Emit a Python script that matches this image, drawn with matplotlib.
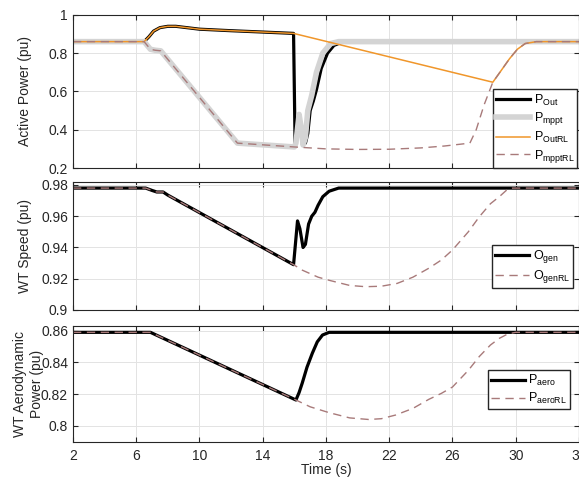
import matplotlib
matplotlib.use("Agg")
import matplotlib.pyplot as plt

plt.rcParams['font.family'] = ['Liberation Sans', 'DejaVu Sans']
plt.rcParams['mathtext.fontset'] = 'custom'
plt.rcParams['mathtext.rm'] = 'Liberation Sans'
plt.rcParams['mathtext.it'] = 'Liberation Sans:italic'

# ---- top panel: active power ----
t_pre = [2, 6.5, 6.8, 7.1, 7.5, 8.0, 8.5, 9.0, 10, 12, 14, 15.95]
p_out_pre = [0.86, 0.86, 0.885, 0.915, 0.933, 0.94, 0.94, 0.935, 0.925, 0.917, 0.91, 0.903]

t_out_post = [16.05, 16.3, 16.5, 16.7, 16.85, 17.0, 17.2, 17.4, 17.7, 18.1, 18.5, 19.0, 19.5, 34]
p_out_post = [0.31, 0.45, 0.36, 0.33, 0.38, 0.50, 0.55, 0.61, 0.72, 0.80, 0.84, 0.857, 0.86, 0.86]

t_mppt_pre = [2, 6.5, 6.9, 7.2, 7.55, 12.4, 16.0]
p_mppt_pre = [0.86, 0.86, 0.82, 0.815, 0.812, 0.33, 0.31]

t_mppt_post = [16.1, 16.3, 16.45, 16.55, 16.7, 16.85, 17.1, 17.4, 17.8, 18.3, 18.8, 34]
p_mppt_post = [0.33, 0.48, 0.40, 0.32, 0.36, 0.50, 0.58, 0.70, 0.80, 0.85, 0.86, 0.86]

t_rl_tail = [28.55, 29.0, 29.6, 30.1, 30.6, 31.3, 34]
p_rl_tail = [0.648, 0.70, 0.77, 0.82, 0.85, 0.86, 0.86]

t_mpptrl_mid = [17.0, 18.0, 20.0, 22.0, 24.0, 25.5, 27.1, 27.5, 28.0]
p_mpptrl_mid = [0.305, 0.30, 0.297, 0.298, 0.305, 0.315, 0.33, 0.40, 0.53]

# ---- middle panel: WT speed ----
t_w_pre = [2, 6.6, 7.0, 7.3, 7.7, 8.0, 15.95]
w_pre = [0.978, 0.978, 0.9765, 0.9755, 0.9755, 0.9735, 0.929]
t_w_post = [16.2, 16.35, 16.55, 16.7, 16.9, 17.1, 17.3, 17.5, 17.8, 18.2, 18.8, 34]
w_post = [0.957, 0.952, 0.940, 0.942, 0.955, 0.960, 0.9625, 0.967, 0.9725, 0.976, 0.978, 0.978]
t_wrl_post = [16.5, 17.5, 18.2, 19.5, 20.5, 21.5, 22.5, 23.5, 24.5, 25.3, 26.0, 27.0,
              27.7, 28.4, 28.96, 29.4, 29.8, 34]
wrl_post = [0.9255, 0.921, 0.919, 0.9157, 0.9149, 0.9152, 0.917, 0.921, 0.9267, 0.932,
            0.9384, 0.950, 0.9597, 0.968, 0.9725, 0.9765, 0.978, 0.978]

# ---- bottom panel: aerodynamic power ----
t_a_pre = [2, 6.9, 16.1]
a_pre = [0.859, 0.859, 0.8163]
t_a_post = [16.3, 16.5, 16.8, 17.14, 17.45, 17.78, 18.2, 18.6, 34]
a_post = [0.821, 0.827, 0.837, 0.8459, 0.853, 0.8573, 0.859, 0.859, 0.859]
t_arl_post = [17.0, 18.2, 19.5, 20.7, 21.5, 22.4, 23.5, 24.5, 25.3, 26.0, 27.0, 27.7,
              28.4, 28.96, 29.5, 30.0, 34]
arl_post = [0.812, 0.8083, 0.805, 0.804, 0.8045, 0.8068, 0.811, 0.8167, 0.8205, 0.8245,
            0.835, 0.8438, 0.851, 0.8552, 0.858, 0.859, 0.859]

x_ticks = [2, 6, 10, 14, 18, 22, 26, 30, 34]

C_GRAY = '#d4d4d4'
C_ORANGE = '#f0962a'
C_DASH = '#a87a7a'
DASH = (0, (6, 4))
LEG = dict(loc='lower right', fontsize=9, handlelength=2.7, handletextpad=0.3,
           labelspacing=0.22, borderpad=0.25, borderaxespad=0, fancybox=False,
           edgecolor='#262626', framealpha=1)

fig = plt.figure(figsize=(5.79, 4.78), dpi=100)
ax1 = fig.add_axes([0.126, 0.6485, 0.874, 0.3205])
ax2 = fig.add_axes([0.126, 0.3515, 0.874, 0.2671])
ax3 = fig.add_axes([0.126, 0.076, 0.874, 0.242])

ax1.plot(t_pre + t_out_post, p_out_pre + p_out_post, color='black', lw=2.3, label=r'P$_{\mathrm{Out}}$')
ax1.plot(t_mppt_pre + t_mppt_post, p_mppt_pre + p_mppt_post, color=C_GRAY, lw=4.0,
         label=r'P$_{\mathrm{mppt}}$')
ax1.plot(t_pre + t_rl_tail, p_out_pre + p_rl_tail, color=C_ORANGE, lw=1.1, label=r'P$_{\mathrm{OutRL}}$')
ax1.plot(t_mppt_pre + t_mpptrl_mid + t_rl_tail, p_mppt_pre + p_mpptrl_mid + p_rl_tail,
         color=C_DASH, lw=1.0, ls=DASH, label=r'P$_{\mathrm{mpptRL}}$')
ax1.set_ylim(0.2, 1.0)
ax1.set_yticks([0.2, 0.4, 0.6, 0.8, 1.0])
ax1.set_yticklabels(['0.2', '0.4', '0.6', '0.8', '1'])
ax1.set_ylabel('Active Power (pu)')
ax1.legend(bbox_to_anchor=(0.997, 0.0), **LEG)

ax2.plot(t_w_pre + t_w_post, w_pre + w_post, color='black', lw=2.3, label=r'O$_{\mathrm{gen}}$')
ax2.plot(t_w_pre + t_wrl_post, w_pre + wrl_post, color=C_DASH, lw=1.0, ls=DASH,
         label=r'O$_{\mathrm{genRL}}$')
ax2.set_ylim(0.9, 0.9817)
ax2.set_yticks([0.9, 0.92, 0.94, 0.96, 0.98])
ax2.set_yticklabels(['0.9', '0.92', '0.94', '0.96', '0.98'])
ax2.set_ylabel('WT Speed (pu)')
ax2.legend(bbox_to_anchor=(0.989, 0.17), **LEG)

ax3.plot(t_a_pre + t_a_post, a_pre + a_post, color='black', lw=2.3, label=r'P$_{\mathrm{aero}}$')
ax3.plot(t_a_pre + t_arl_post, a_pre + arl_post, color=C_DASH, lw=1.0, ls=DASH,
         label=r'P$_{\mathrm{aeroRL}}$')
ax3.set_ylim(0.79, 0.863)
ax3.set_yticks([0.8, 0.82, 0.84, 0.86])
ax3.set_yticklabels(['0.8', '0.82', '0.84', '0.86'])
ax3.set_ylabel('WT Aerodynamic\nPower (pu)')
ax3.set_xlabel('Time (s)', labelpad=0)
ax3.legend(bbox_to_anchor=(0.983, 0.28), **LEG)

for ax in (ax1, ax2, ax3):
    ax.set_xlim(2, 34)
    ax.set_xticks(x_ticks)
    ax.grid(True, color='#e3e3e3', lw=0.7)
    ax.tick_params(direction='in', top=True, right=True, labelsize=10, colors='#262626',
                   length=3.5)
    for s in ax.spines.values():
        s.set_color('#262626')
        s.set_linewidth(0.8)
    ax.yaxis.label.set_color('#262626')
    ax.yaxis.label.set_size(10)
ax1.set_xticklabels([])
ax2.set_xticklabels([])
ax3.set_xticklabels([str(v) for v in x_ticks])
ax3.tick_params(axis='x', pad=5.5)
ax3.xaxis.label.set_size(10)
ax3.xaxis.label.set_color('#262626')
ax1.yaxis.set_label_coords(-0.08, 0.5)
ax2.yaxis.set_label_coords(-0.08, 0.5)
ax3.yaxis.set_label_coords(-0.058, 0.5)

fig.savefig('out.png', dpi=100)
